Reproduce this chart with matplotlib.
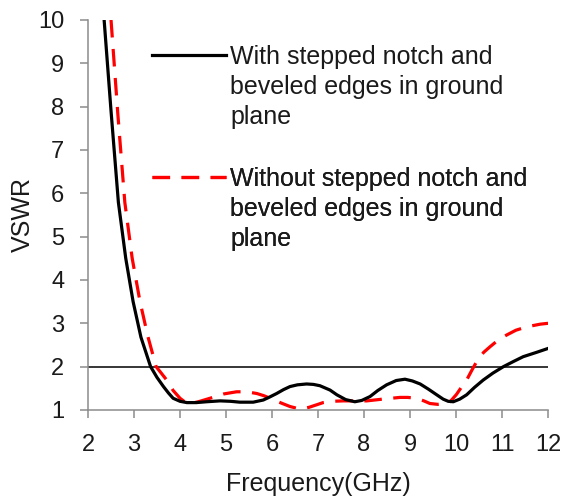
import matplotlib
matplotlib.use("Agg")
import matplotlib.pyplot as plt
from matplotlib.lines import Line2D

plt.rcParams['font.family'] = ['Liberation Sans', 'DejaVu Sans']

freq_with = [2.35, 2.5, 2.66, 2.82, 2.98, 3.15, 3.36, 3.5, 3.64, 3.75, 3.85, 4.0, 4.15, 4.35,
             4.58, 4.87, 5.1, 5.3, 5.59, 5.81, 5.95, 6.1, 6.25, 6.39, 6.55, 6.75, 6.9, 7.04,
             7.26, 7.41, 7.6, 7.8, 7.95, 8.13, 8.3, 8.49, 8.7, 8.89, 9.05, 9.22, 9.4, 9.58,
             9.72, 9.83, 9.94, 10.08, 10.23, 10.4, 10.59, 10.8, 11.03, 11.25, 11.46, 11.75, 12.0]
vswr_with = [10.0, 7.9, 5.79, 4.5, 3.5, 2.68, 2.0, 1.75, 1.54, 1.39, 1.27, 1.2, 1.17, 1.17,
             1.19, 1.21, 1.2, 1.18, 1.18, 1.23, 1.3, 1.38, 1.47, 1.54, 1.58, 1.6, 1.59, 1.56,
             1.46, 1.35, 1.24, 1.19, 1.22, 1.31, 1.45, 1.58, 1.68, 1.71, 1.67, 1.6, 1.48, 1.35,
             1.25, 1.2, 1.19, 1.25, 1.35, 1.52, 1.69, 1.85, 2.0, 2.12, 2.23, 2.33, 2.42]

freq_without = [2.5, 2.65, 2.8, 2.96, 3.13, 3.3, 3.48, 3.6, 3.71, 3.85, 4.0, 4.1, 4.22, 4.4,
                4.65, 4.95, 5.23, 5.45, 5.67, 5.82, 5.96, 6.2, 6.39, 6.61, 6.8, 6.97, 7.11,
                7.3, 7.55, 8.06, 8.4, 8.78, 8.95, 9.14, 9.3, 9.43, 9.6, 9.75, 9.87, 10.01,
                10.12, 10.23, 10.35, 10.45, 10.6, 10.74, 10.9, 11.1, 11.3, 11.54, 11.83, 12.0]
vswr_without = [10.0, 7.8, 5.79, 4.5, 3.5, 2.7, 2.0, 1.84, 1.69, 1.45, 1.27, 1.19, 1.15, 1.19,
                1.27, 1.37, 1.42, 1.42, 1.38, 1.33, 1.27, 1.16, 1.08, 1.02, 1.06, 1.12, 1.17,
                1.2, 1.21, 1.21, 1.25, 1.29, 1.29, 1.27, 1.21, 1.15, 1.13, 1.15, 1.19, 1.36,
                1.53, 1.69, 1.93, 2.12, 2.33, 2.46, 2.6, 2.73, 2.84, 2.92, 2.98, 3.0]

ref_level = 2
x_ticks = list(range(2, 13))
y_ticks = list(range(1, 11))
lines_with = ["With stepped notch and", "beveled edges in ground", "plane"]
lines_without = ["Without stepped notch and", "beveled edges in ground", "plane"]

TXT = '#1a1a1a'
fig = plt.figure(figsize=(5.65, 4.99), dpi=100)
ax = fig.add_axes([0.1558, 0.1784, 0.8142, 0.7816])

ax.axhline(ref_level, color='black', lw=1.1, zorder=1)
h_with, = ax.plot(freq_with, vswr_with, color='black', lw=2.3, zorder=3)
h_without, = ax.plot(freq_without, vswr_without, color='#ff0000', lw=2.3,
                     dashes=(5.5, 3.6), zorder=2)

ax.set_xlim(2, 12)
ax.set_ylim(1, 10)
ax.set_xticks(x_ticks)
ax.set_yticks(y_ticks)
for s in ['top', 'right']:
    ax.spines[s].set_visible(False)
for s in ['left', 'bottom']:
    ax.spines[s].set_color('#8c8c8c')
    ax.spines[s].set_linewidth(1.1)
ax.tick_params(axis='both', colors='#8c8c8c', length=6, width=1.1, labelsize=17,
               labelcolor=TXT, pad=11)
ax.set_xlabel('Frequency(GHz)', fontsize=18, color=TXT, labelpad=12)
ax.set_ylabel('VSWR', fontsize=18, color=TXT, labelpad=2)

blank = Line2D([], [], color='none')


def add_leg(handle, lines, top):
    lg = ax.legend([handle, blank, blank], lines, loc='upper left',
                   bbox_to_anchor=(0.139, top), frameon=False, fontsize=18,
                   handlelength=2.96, handletextpad=0.16, borderpad=0,
                   labelspacing=0.24, borderaxespad=0)
    for t in lg.get_texts():
        t.set_color(TXT)
    ax.add_artist(lg)
    return lg


add_leg(h_with, lines_with, 0.936)
add_leg(h_without, lines_without, 0.623)

fig.savefig('out.png', dpi=100)
